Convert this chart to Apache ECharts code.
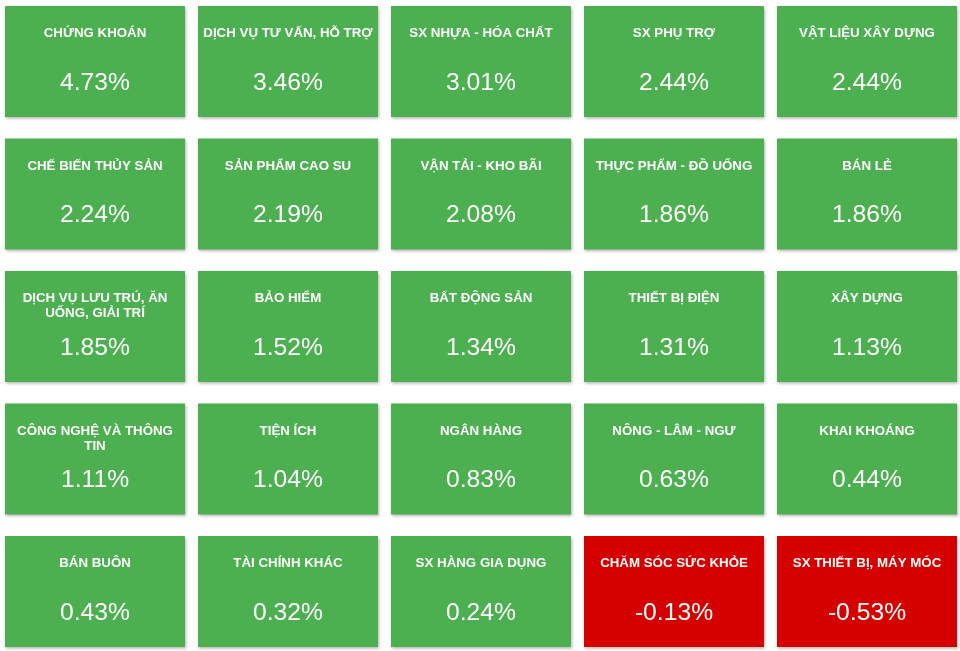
<!DOCTYPE html>
<html>
<head>
<meta charset="utf-8">
<script src="https://cdn.jsdelivr.net/npm/echarts@6/dist/echarts.min.js"></script>
<style>
html,body{margin:0;padding:0;background:#fff;}
#chart{width:960px;height:651px;}
</style>
</head>
<body>
<div id="chart"></div>
<script>
var sectors = [
  "CHỨNG KHOÁN", "DỊCH VỤ TƯ VẤN, HỖ TRỢ", "SX NHỰA - HÓA CHẤT", "SX PHỤ TRỢ", "VẬT LIỆU XÂY DỰNG",
  "CHẾ BIẾN THỦY SẢN", "SẢN PHẨM CAO SU", "VẬN TẢI - KHO BÃI", "THỰC PHẨM - ĐỒ UỐNG", "BÁN LẺ",
  "DỊCH VỤ LƯU TRÚ, ĂN\nUỐNG, GIẢI TRÍ", "BẢO HIỂM", "BẤT ĐỘNG SẢN", "THIẾT BỊ ĐIỆN", "XÂY DỰNG",
  "CÔNG NGHỆ VÀ THÔNG\nTIN", "TIỆN ÍCH", "NGÂN HÀNG", "NÔNG - LÂM - NGƯ", "KHAI KHOÁNG",
  "BÁN BUÔN", "TÀI CHÍNH KHÁC", "SX HÀNG GIA DỤNG", "CHĂM SÓC SỨC KHỎE", "SX THIẾT BỊ, MÁY MÓC"
];
var changes = [
  4.73, 3.46, 3.01, 2.44, 2.44,
  2.24, 2.19, 2.08, 1.86, 1.86,
  1.85, 1.52, 1.34, 1.31, 1.13,
  1.11, 1.04, 0.83, 0.63, 0.44,
  0.43, 0.32, 0.24, -0.13, -0.53
];
var columns = ["0", "1", "2", "3", "4"];
var rows = ["0", "1", "2", "3", "4"];

var data = sectors.map(function (name, i) {
  return [i % 5, Math.floor(i / 5), changes[i], name];
});

var chart = echarts.init(document.getElementById('chart'));
chart.setOption({
  animation: false,
  backgroundColor: '#ffffff',
  grid: { left: -1.5, top: -4.75, width: 965, height: 662.5, outerBoundsMode: 'none', containLabel: false },
  xAxis: { type: 'category', data: columns, show: false },
  yAxis: { type: 'category', data: rows, show: false, inverse: true },
  series: [{
    type: 'custom',
    data: data,
    encode: { x: 0, y: 1 },
    renderItem: function (params, api) {
      var c = api.coord([api.value(0), api.value(1)]);
      var band = api.size([1, 1]);
      var w = band[0] - 13;
      var h = band[1] - 21.5;
      var x = c[0] - w / 2;
      var y = c[1] - h / 2;
      var v = api.value(2);
      var name = data[params.dataIndex][3];
      return {
        type: 'group',
        children: [
          {
            type: 'rect',
            shape: { x: x, y: y, width: w, height: h },
            style: {
              fill: v >= 0 ? '#4caf50' : '#d50000',
              shadowBlur: 3,
              shadowOffsetX: 1,
              shadowOffsetY: 1.5,
              shadowColor: 'rgba(0,0,0,0.3)'
            }
          },
          {
            type: 'text',
            x: c[0],
            y: y + 20,
            style: {
              text: name,
              fill: '#ffffff',
              font: 'bold 13.3px "Liberation Sans", Arial, sans-serif',
              align: 'center',
              verticalAlign: 'top',
              lineHeight: 15
            }
          },
          {
            type: 'text',
            x: c[0],
            y: y + 77,
            style: {
              text: v.toFixed(2) + '%',
              fill: '#ffffff',
              font: '24.7px "Liberation Sans", Arial, sans-serif',
              align: 'center',
              verticalAlign: 'middle'
            }
          }
        ]
      };
    }
  }]
});
</script>
</body>
</html>
